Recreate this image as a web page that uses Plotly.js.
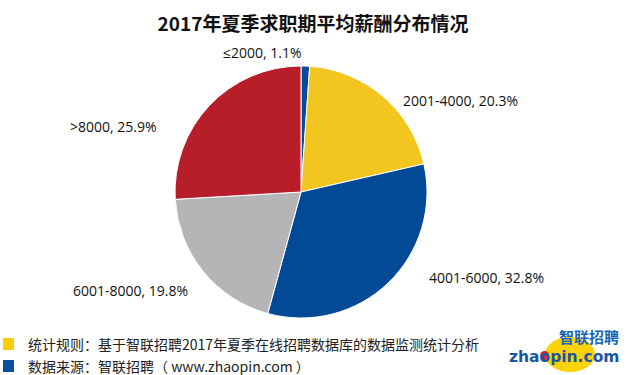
<!DOCTYPE html>
<html>
<head>
<meta charset="utf-8">
<script src="https://cdn.plot.ly/plotly-3.0.1.min.js"></script>
<style>html,body{margin:0;padding:0;background:#fff;}#chart{width:626px;height:375px;}</style>
</head>
<body>
<div id="chart"></div>
<script>
const titleText = '2017年夏季求职期平均薪酬分布情况';
const categories = ['≤2000', '2001-4000', '4001-6000', '6001-8000', '>8000'];
const values = [1.1, 20.3, 32.8, 19.8, 25.9];
const colors = ['#0B4A9A', '#F2C51F', '#034A96', '#B5B5B7', '#B81E2A'];
const footnotes = ['统计规则：基于智联招聘2017年夏季在线招聘数据库的数据监测统计分析', '数据来源：智联招聘（ www.zhaopin.com ）'];
const footColors = ['#FFCC00', '#0A4EA0'];
const logoTop = '智联招聘';
const logoBottom = 'zhaopin.com';

// label placement (paper coords)
const labelPos = [[262, 53], [460, 101], [487, 277], [130, 290], [113, 126]];

const W = 626, H = 375;
const px = x => x / W, py = y => 1 - y / H;
const font = '"Segoe UI", "Open Sans", "Noto Sans", "Noto Sans CJK SC", sans-serif';
const cjk = '"Microsoft YaHei", "Noto Sans CJK SC", sans-serif';

const cx = 301, cy = 192, r = 126;
const trace = {
  type: 'pie',
  labels: categories,
  values: values,
  sort: false,
  direction: 'clockwise',
  rotation: 0,
  textinfo: 'none',
  hoverinfo: 'label+percent',
  marker: {colors: colors, line: {color: '#ffffff', width: 1}},
  domain: {x: [px(cx - r), px(cx + r)], y: [py(cy + r), py(cy - r)]},
  showlegend: false
};

const annotations = categories.map((c, i) => ({
  xref: 'paper', yref: 'paper', x: px(labelPos[i][0]), y: py(labelPos[i][1]),
  text: c + ', ' + values[i].toFixed(1) + '%', showarrow: false,
  xanchor: 'center', yanchor: 'middle',
  font: {family: font, size: 14, color: '#111'}
}));

footnotes.forEach((t, i) => {
  annotations.push({
    xref: 'paper', yref: 'paper', x: px(26), y: py(344 + i * 22),
    text: t, showarrow: false, xanchor: 'left', yanchor: 'middle',
    font: {family: cjk, size: 14, color: '#222'}
  });
});
annotations.push({
  xref: 'paper', yref: 'paper', x: px(621), y: py(336),
  text: '<b>' + logoTop + '</b>', showarrow: false, xanchor: 'right', yanchor: 'middle',
  font: {family: cjk, size: 15, color: '#1565B8'}
});
annotations.push({
  xref: 'paper', yref: 'paper', x: px(621), y: py(357),
  text: '<b>' + logoBottom + '</b>', showarrow: false, xanchor: 'right', yanchor: 'middle',
  font: {family: '"DejaVu Sans", Arial, sans-serif', size: 15.5, color: '#1A56A6'}
});

const shapes = footColors.map((c, i) => ({
  type: 'rect', xref: 'paper', yref: 'paper',
  x0: px(3), x1: px(14), y0: py(350 + i * 22), y1: py(338 + i * 22),
  fillcolor: c, line: {width: 0}
}));
shapes.unshift({
  type: 'circle', xref: 'paper', yref: 'paper',
  x0: px(545), x1: px(595), y0: py(372), y1: py(337),
  fillcolor: '#FCD20A', line: {width: 0}, layer: 'below'
});
shapes.push({
  type: 'circle', xref: 'paper', yref: 'paper',
  x0: px(540), x1: px(549), y0: py(360), y1: py(351),
  fillcolor: '#D8262E', line: {width: 0}, layer: 'above'
});

const layout = {
  width: W, height: H,
  margin: {l: 0, r: 0, t: 0, b: 0},
  paper_bgcolor: '#ffffff',
  title: {text: '<b>' + titleText + '</b>', x: 0.5, xanchor: 'center', y: py(24), yanchor: 'middle',
          font: {family: cjk, size: 19, color: '#111'}},
  annotations: annotations,
  shapes: shapes
};

Plotly.newPlot('chart', [trace], layout, {displayModeBar: false, staticPlot: true});
</script>
</body>
</html>
